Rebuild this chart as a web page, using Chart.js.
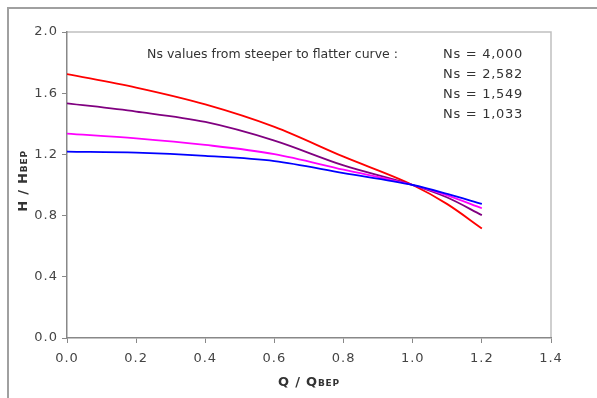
<!DOCTYPE html>
<html><head><meta charset="utf-8">
<script src="https://cdn.jsdelivr.net/npm/chart.js@4/dist/chart.umd.min.js"></script>
<style>
html,body{margin:0;padding:0;background:#fff;}
#wrap{position:relative;width:597px;height:398px;}
#frame{position:absolute;left:7px;top:7px;width:600px;height:400px;border-top:2px solid #a0a0a0;border-left:2px solid #a0a0a0;}
canvas{position:absolute;left:0;top:0;}
</style></head><body>
<div id="wrap"><div id="frame"></div><canvas id="c" width="597" height="398"></canvas></div>
<script>
const qValues = [0.0, 0.2, 0.4, 0.6, 0.8, 1.0, 1.1, 1.2];
const ns4000 = [1.725, 1.637, 1.527, 1.380, 1.185, 1.0, 0.875, 0.716];
const ns2582 = [1.534, 1.480, 1.412, 1.290, 1.128, 1.0, 0.918, 0.803];
const ns1549 = [1.336, 1.305, 1.262, 1.202, 1.100, 1.0, 0.932, 0.848];
const ns1033 = [1.218, 1.211, 1.190, 1.156, 1.078, 1.0, 0.942, 0.876];
const seriesNames = ['Ns = 4,000', 'Ns = 2,582', 'Ns = 1,549', 'Ns = 1,033'];
const xTicks = [0.0, 0.2, 0.4, 0.6, 0.8, 1.0, 1.2, 1.4];
const yTicks = [0.0, 0.4, 0.8, 1.2, 1.6, 2.0];
const noteText = 'Ns values from steeper to flatter curve :';

const colors = ['#ff0000', '#800080', '#ff00ff', '#0000ff'];
const allSeries = [ns4000, ns2582, ns1549, ns1033];
const datasets = allSeries.map((s, i) => ({
  label: seriesNames[i],
  data: s.map((v, j) => ({x: qValues[j], y: v})),
  borderColor: colors[i],
  borderWidth: 1.8,
  pointRadius: 0,
  fill: false,
  cubicInterpolationMode: 'monotone',
  order: 3 - i
}));

const FONT = '"DejaVu Sans", Verdana, sans-serif';

const deco = {
  id: 'deco',
  beforeDraw(chart) {
    const {ctx, chartArea: a} = chart;
    ctx.save();
    ctx.strokeStyle = '#c0c0c0';
    ctx.lineWidth = 1.5;
    ctx.beginPath();
    ctx.moveTo(a.left, a.top); ctx.lineTo(a.right, a.top); ctx.lineTo(a.right, a.bottom);
    ctx.stroke();
    ctx.restore();
    ctx.letterSpacing = '1px';
  },
  afterDraw(chart) {
    const {ctx, chartArea: a} = chart;
    ctx.save();
    ctx.fillStyle = '#333';
    ctx.font = '12.5px ' + FONT;
    ctx.textBaseline = 'middle';
    ctx.textAlign = 'left';
    ctx.letterSpacing = '0px';
    const nw = ctx.measureText(noteText).width;
    ctx.fillText(noteText, 398 - nw, 55);
    ctx.font = '13px ' + FONT;
    ctx.letterSpacing = '0.7px';
    seriesNames.forEach((n, i) => ctx.fillText(n, 443, 55 + i * 20));
    // x title
    ctx.letterSpacing = '0.8px';
    const big = 'bold 13px ' + FONT, small = 'bold 9px ' + FONT;
    ctx.fillStyle = '#333';
    ctx.font = big; const w1 = ctx.measureText('Q / Q').width;
    ctx.font = small; const w2 = ctx.measureText('BEP').width;
    let x0 = 309 - (w1 + w2) / 2;
    ctx.textBaseline = 'alphabetic';
    ctx.font = big; ctx.fillText('Q / Q', x0, 386);
    ctx.font = small; ctx.fillText('BEP', x0 + w1, 386);
    // y title
    ctx.translate(27, 181);
    ctx.rotate(-Math.PI / 2);
    ctx.font = big; const v1 = ctx.measureText('H / H').width;
    ctx.font = small; const v2 = ctx.measureText('BEP').width;
    const y0 = -(v1 + v2) / 2;
    ctx.font = big; ctx.fillText('H / H', y0, 0);
    ctx.font = small; ctx.fillText('BEP', y0 + v1, 0);
    ctx.restore();
  }
};

new Chart(document.getElementById('c'), {
  type: 'line',
  data: {datasets},
  plugins: [deco],
  options: {
    responsive: false,
    animation: false,
    layout: {padding: {left: 0, right: 46, top: 32, bottom: 0}},
    plugins: {legend: {display: false}, tooltip: {enabled: false}},
    scales: {
      x: {
        type: 'linear', min: 0, max: 1.4,
        afterBuildTicks(s) { s.ticks = xTicks.map(v => ({value: v})); },
        afterFit(s) { s.height = 60; },
        border: {color: '#888', width: 1.5},
        grid: {display: true, drawOnChartArea: false, drawTicks: true, tickLength: 5, color: '#888'},
        ticks: {color: '#444', font: {family: FONT, size: 13}, padding: 8, maxRotation: 0,
          callback: v => v.toFixed(1)}
      },
      y: {
        type: 'linear', min: 0, max: 2.0,
        afterBuildTicks(s) { s.ticks = yTicks.map(v => ({value: v})); },
        afterFit(s) { s.width = 67; },
        border: {color: '#888', width: 1.5},
        grid: {display: true, drawOnChartArea: false, drawTicks: true, tickLength: 5, color: '#888'},
        ticks: {color: '#444', font: {family: FONT, size: 13}, padding: 4,
          callback: v => v.toFixed(1)}
      }
    }
  }
});
</script>
</body></html>
